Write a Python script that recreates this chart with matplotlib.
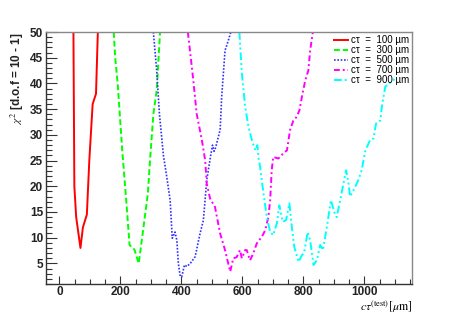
import numpy as np
import matplotlib
matplotlib.use('Agg')
import matplotlib.pyplot as plt

# chi2 scan vs test ctau for five generated ctau values
x100 = [46, 49, 55, 62, 69, 77, 90, 98, 109, 120, 126]
y100 = [50, 20, 14, 11, 8, 12, 14.5, 25, 36, 38, 50]

x300 = [178, 183, 191, 206, 219, 230, 246, 260, 273, 290, 297, 308, 319, 330]
y300 = [50, 45, 40, 27, 17.3, 8.6, 7.7, 5, 10.8, 18.6, 25, 34, 38.7, 50]

x500 = [308, 319, 328, 341, 352, 363, 370, 379, 385, 390, 396, 401, 410, 418,
        429, 445, 461, 472, 483, 496, 502, 507, 512, 527, 532, 543, 554, 562]
y500 = [50, 42.5, 34, 26, 21.8, 17.3, 9.9, 11.1, 9.5, 5, 2.5, 2.4, 4.7, 4.4,
        5, 6.3, 10.8, 13.4, 21.2, 26, 28, 26.8, 27.5, 31, 37.4, 46.4, 48.4, 50]

x700 = [421, 428, 439, 450, 467, 478, 483, 494, 510, 527, 543, 551, 560, 570,
        581, 592, 598, 609, 614, 625, 636, 647, 664, 675, 685, 691, 696, 701,
        718, 734, 746, 756, 767, 778, 787, 795, 806, 816, 822, 831]
y700 = [50, 46.4, 40.6, 34.1, 29, 25, 20.5, 17.6, 16, 10.8, 7.6, 5.6, 3.4, 6,
        6.2, 7.6, 6, 7.6, 7.6, 5.6, 7, 8.9, 10.2, 11.5, 14, 17.3, 23.1, 25.7,
        25.4, 26.4, 27, 30.9, 32.8, 33.5, 34.8, 37.4, 40.6, 42.5, 46.4, 50]

x900 = [590, 598, 609, 620, 631, 642, 649, 653, 658, 669, 680, 691, 701, 713,
        721, 732, 743, 754, 762, 770, 784, 795, 802, 814, 822, 833, 844, 855,
        864, 877, 890, 901, 909, 923, 931, 940, 948, 953, 964, 980, 991, 1002,
        1013, 1019, 1030, 1038, 1052, 1057, 1068, 1079, 1090, 1101]
y900 = [50, 42, 35.5, 31.5, 29, 27, 28, 25.4, 23.8, 18.6, 14, 11.1, 10.5, 12.8,
        16.3, 13.1, 13.4, 16.7, 12.1, 8.2, 5.3, 6.6, 7, 11.1, 9.5, 4.7, 5.6, 8.6,
        7.6, 12.1, 17.3, 15, 14, 18, 20.5, 23.1, 20.5, 18, 19.2, 21.2, 23.1, 26.7,
        28.3, 29, 29.3, 32.2, 32.8, 35.4, 39.3, 40, 40.3, 41]

labels = [u'c\u03c4  =  100 \u00b5m', u'c\u03c4  =  300 \u00b5m', u'c\u03c4  =  500 \u00b5m',
          u'c\u03c4  =  700 \u00b5m', u'c\u03c4  =  900 \u00b5m']

plt.rcParams['font.family'] = ['Liberation Sans', 'DejaVu Sans']
plt.rcParams['mathtext.fontset'] = 'stix'

fig = plt.figure(figsize=(4.58, 3.16), dpi=100, facecolor='w')
ax = fig.add_axes([0.1004, 0.1013, 0.7992, 0.7974])

lw = 1.4
ax.plot(x100, y100, color='#ff0000', lw=lw, ls='-', label=labels[0])
ax.plot(x300, y300, color='#00ff00', lw=lw, ls=(0, (3, 1.5)), label=labels[1])
ax.plot(x500, y500, color='#3030ff', lw=1.2, ls=(0, (1, 1)), label=labels[2])
ax.plot(x700, y700, color='#ff00ff', lw=lw, ls=(0, (3, 1.5, 1, 1.5)), label=labels[3])
ax.plot(x900, y900, color='#00ffff', lw=lw, ls=(0, (4, 1.5, 1, 1.5, 1, 1.5)), label=labels[4])

ax.set_xlim(-44, 1156)
ax.set_ylim(1, 50)

ax.set_xticks([0, 200, 400, 600, 800, 1000])
ax.set_xticks(np.arange(-0, 1151, 50), minor=True)
ax.set_yticks([5, 10, 15, 20, 25, 30, 35, 40, 45, 50])
ax.set_yticks(np.arange(1, 51, 1), minor=True)

ax.tick_params(axis='x', which='major', direction='in', length=6, width=0.8,
               color='#333333', labelsize=8.5, pad=1.5, top=False)
ax.tick_params(axis='x', which='minor', direction='in', length=3.6, width=0.8,
               color='#333333', top=False)
ax.tick_params(axis='y', which='major', direction='in', length=8, width=0.8,
               color='#333333', labelsize=8.5, pad=2, right=False)
ax.tick_params(axis='y', which='minor', direction='in', length=4.5, width=0.8,
               color='#333333', right=False)
for lab in ax.get_xticklabels() + ax.get_yticklabels():
    lab.set_fontweight('bold')
    lab.set_color('#222222')

for s in ['left', 'bottom']:
    ax.spines[s].set_color('#333333')
    ax.spines[s].set_linewidth(1.0)
for s in ['top', 'right']:
    ax.spines[s].set_color('#888888')
    ax.spines[s].set_linewidth(1.0)

ax.set_ylabel(r'$\chi^{2}$ [d.o.f = 10 - 1]', loc='top', fontsize=8.5,
              fontweight='bold', color='#222222', labelpad=3)
ax.set_xlabel(r'$c\tau^{(\mathrm{test})}[\mu\mathrm{m}]$', fontsize=8.5,
              ha='right', va='top')
ax.xaxis.set_label_coords(1.0, -0.058)

leg = ax.legend(loc='upper right', frameon=False, fontsize=7,
                handlelength=1.5, handletextpad=0.25, labelspacing=0.0,
                borderaxespad=0.2, borderpad=0.1)

plt.savefig('out.png', dpi=100)
